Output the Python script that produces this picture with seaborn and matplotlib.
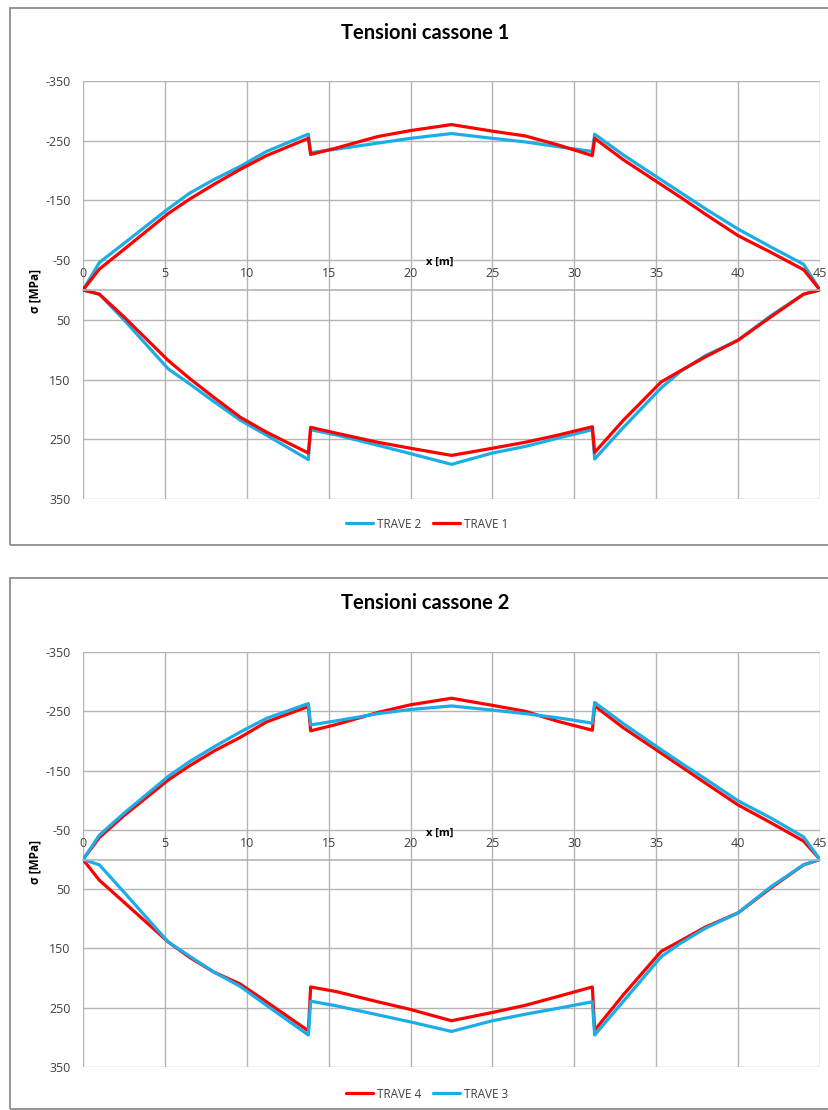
import matplotlib
matplotlib.use("Agg")
import matplotlib.pyplot as plt
from matplotlib.patches import Rectangle
import numpy as np
import pandas as pd
import seaborn as sns

# ---- data: stress [MPa] along the beam, x [m] ----
x_top = [0, 1.0, 2.5, 5.2, 6.5, 8.0, 9.6, 11.2, 13.76, 13.9, 15.5, 18.0, 20.0, 22.5,
         25.0, 27.0, 29.0, 31.1, 31.24, 33.0, 35.0, 36.5, 38.0, 40.0, 42.0, 44.0, 45.0]
x_bot = [0, 1.0, 2.5, 5.2, 6.5, 8.0, 9.6, 11.2, 13.76, 13.9, 15.5, 18.0, 20.0, 22.5,
         25.0, 27.0, 29.0, 31.1, 31.24, 33.0, 35.3, 36.5, 38.0, 40.0, 42.0, 44.0, 45.0]

# cassone 1
trave2_top = [0, -46, -78, -136, -162, -185, -207, -232, -261, -230, -236, -246, -254, -262,
              -254, -248, -240, -232, -261, -226, -190, -163, -136, -102, -72, -43, 0]
trave2_bot = [0, 7, 50, 132, 157, 187, 218, 243, 284, 234, 243, 260, 274, 292,
              273, 262, 248, 234, 283, 230, 164, 136, 110, 84, 43, 7, 0]
trave1_top = [0, -35, -68, -128, -152, -177, -202, -225, -254, -227, -238, -257, -267, -277,
              -266, -258, -243, -225, -254, -218, -182, -155, -127, -91, -63, -34, 0]
trave1_bot = [0, 7, 45, 118, 148, 180, 213, 238, 273, 230, 240, 255, 265, 277,
              265, 255, 243, 229, 272, 218, 154, 135, 112, 84, 45, 7, 0]

# cassone 2
trave3_top = [0, -41, -78, -140, -165, -190, -215, -238, -263, -227, -234, -246, -253, -259,
              -252, -246, -239, -230, -265, -229, -191, -163, -136, -99, -70, -38, 0]
trave3_bot = [0, 9, 55, 139, 163, 190, 214, 246, 296, 239, 247, 262, 274, 290,
              272, 261, 251, 240, 296, 239, 164, 141, 116, 90, 46, 9, 0]
trave4_top = [0, -37, -74, -134, -158, -183, -206, -232, -258, -217, -228, -248, -261, -272,
              -260, -250, -233, -218, -259, -222, -185, -157, -129, -92, -62, -31, 0]
trave4_bot = [0, 35, 72, 139, 165, 190, 210, 240, 289, 215, 223, 240, 253, 272,
              258, 246, 231, 215, 288, 228, 155, 137, 114, 90, 48, 9, 0]

y_ticks = [-350, -250, -150, -50, 50, 150, 250, 350]
x_ticks = [0, 5, 10, 15, 20, 25, 30, 35, 40, 45]

BLUE = "#1BADE6"
RED = "#FF0000"
GRID = "#B4B4B4"
TXT = "#404040"

sns.set_theme(style="white")
plt.rcParams["font.family"] = ["Open Sans", "DejaVu Sans"]

W, H = 829, 1110
fig = plt.figure(figsize=(W / 100, H / 100), dpi=100)


def loop(top, bot):
    """Closed outline: tension side left to right, compression side back."""
    xs = list(x_bot) + list(x_top[::-1])
    ys = list(bot) + list(top[::-1])
    return xs, ys


def panel(box, ax_px, title, series, legend_y):
    # chart frame
    x0, y0, x1, y1 = box
    fig.patches.append(Rectangle((x0 / W, 1 - y1 / H), (x1 - x0) / W, (y1 - y0) / H,
                                 transform=fig.transFigure, fill=False,
                                 edgecolor="#8C8C8C", linewidth=1.3))
    fig.text(425 / W, 1 - (y0 + 25) / H, title, ha="center", va="center",
             fontsize=14.5, fontweight="bold", color="black",
             family=["Lato", "DejaVu Sans"])

    l, t, r, b = ax_px
    ax = fig.add_axes([l / W, 1 - b / H, (r - l) / W, (b - t) / H])
    for name, top, bot, col in series:
        xs, ys = loop(top, bot)
        df = pd.DataFrame({"x": xs, "s": ys})
        sns.lineplot(data=df, x="x", y="s", sort=False, estimator=None, ax=ax,
                     color=col, linewidth=2.3, label=name,
                     solid_joinstyle="round", solid_capstyle="round")

    ax.set_xlim(0, 45)
    ax.set_ylim(350, -350)
    ax.set_yticks(y_ticks)
    ax.set_yticklabels([str(v) for v in y_ticks])
    ax.set_xticks(x_ticks)
    ax.set_xticklabels([str(v) for v in x_ticks])
    ax.grid(True, color=GRID, linewidth=1.0)
    for s in ["left", "right", "bottom"]:
        ax.spines[s].set_visible(False)
    # horizontal axis crossing at zero, labels above it
    ax.xaxis.set_ticks_position("top")
    ax.xaxis.set_label_position("top")
    ax.spines["top"].set_position(("data", 0))
    ax.spines["top"].set_color(GRID)
    ax.spines["top"].set_linewidth(1.2)
    ax.tick_params(axis="x", length=0, pad=7, labelsize=9, labelcolor=TXT)
    ax.tick_params(axis="y", length=0, pad=9, labelsize=9, labelcolor=TXT)
    ax.set_xlabel("")
    ax.set_ylabel("")

    fig.text(440 / W, 1 - (t + 181) / H, "x [m]", ha="center", va="center",
             fontsize=8, fontweight="bold", color="black")
    fig.text(35 / W, 1 - (t + 210) / H, "σ [MPa]", ha="center", va="center",
             rotation=90, fontsize=8.5, fontweight="bold", color="black")

    ax.legend(loc="center", bbox_to_anchor=(427 / W, 1 - legend_y / H),
              bbox_transform=fig.transFigure, ncol=2, frameon=False,
              fontsize=8.5, handlelength=2.3, handletextpad=0.3,
              columnspacing=1.0, labelcolor=TXT)
    return ax


panel((10, 8, 834, 545), (83, 81, 820, 499), "Tensioni cassone 1",
      [("TRAVE 2", trave2_top, trave2_bot, BLUE),
       ("TRAVE 1", trave1_top, trave1_bot, RED)], 524)

panel((10, 578, 834, 1109), (83, 652, 820, 1067), "Tensioni cassone 2",
      [("TRAVE 4", trave4_top, trave4_bot, RED),
       ("TRAVE 3", trave3_top, trave3_bot, BLUE)], 1094)

fig.savefig("out.png", dpi=100, facecolor="white")
